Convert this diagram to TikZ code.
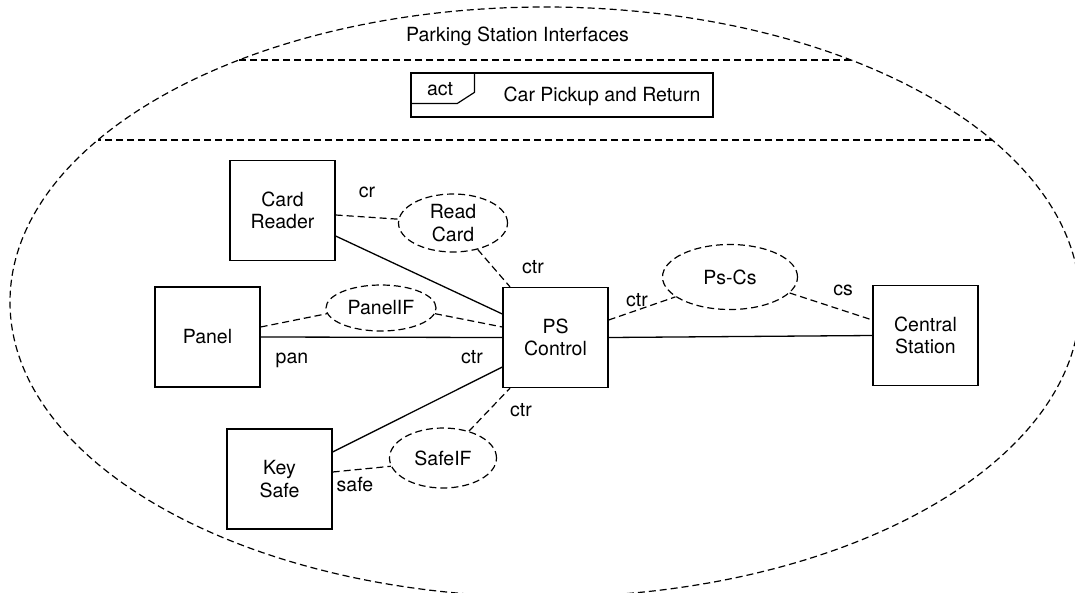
\documentclass[tikz,border=0pt]{standalone}
\usepackage{fontspec}
\setmainfont{TeX Gyre Heros}
\usetikzlibrary{shapes.geometric,calc,intersections}
\begin{document}
\begin{tikzpicture}[x=1pt,y=-1pt,
  every node/.style={font=\fontsize{19.5pt}{22.5pt}\selectfont},
  dsh/.style={dash pattern=on 7pt off 4pt, line width=1.2pt},
  sol/.style={line width=1.3pt},
  blk/.style={draw, line width=1.3pt, rectangle, minimum width=105pt, minimum height=100pt, inner sep=0pt, align=center},
  uc/.style={draw, ellipse, dash pattern=on 7pt off 4pt, line width=1.2pt, inner sep=0pt, align=center},
  lbl/.style={anchor=base, inner sep=0pt}
]
\useasboundingbox (0,0) rectangle (1075,592);
\clip (0,0) rectangle (1075,592);

% outer ellipse and separators
\draw[dsh, name path=E] (545,302) ellipse [x radius=535pt, y radius=295pt];
\path[name path=LA] (0,60) -- (1075,60);
\path[name path=LB] (0,140) -- (1075,140);
\draw[dsh, name intersections={of=E and LA}] (intersection-1) -- (intersection-2);
\draw[dsh, name intersections={of=E and LB}] (intersection-1) -- (intersection-2);
\node[lbl] (psi) at (517.5,41.7) {Parking Station Interfaces};

% activity frame
\node[draw, line width=1.2pt, minimum width=302pt, minimum height=44pt, inner sep=0pt] (fr) at (562,95) {};
\draw[line width=1.2pt] ($(fr.north west)+(0,31)$) -- ++(47,0) -- ++(17,-11) -- ($(fr.north west)+(64,0)$);
\node[lbl] (actl) at (440,95) {act};
\node[lbl] (title) at (602,101.7) {Car Pickup and Return};

% blocks
\node[blk] (cr) at (282.5,210.5) {Card\\Reader};
\node[blk] (pn) at (207.5,337) {Panel};
\node[blk] (ks) at (279.5,479) {Key\\Safe};
\node[blk] (ps) at (555.5,337.5) {PS\\Control};
\node[blk] (cs) at (925.5,335.5) {Central\\Station};

% interface ellipses
\node[uc, minimum width=109pt, minimum height=58pt] (rc) at (453,223) {Read\\Card};
\node[uc, minimum width=110pt, minimum height=46pt] (pif) at (381,308) {PanelIF};
\node[uc, minimum width=107pt, minimum height=60pt] (sif) at (443,458) {SafeIF};
\node[uc, minimum width=135pt, minimum height=65pt] (pc) at (730,277) {Ps-Cs};

% solid connectors
\draw[sol] ([yshift=-25.5pt]cr.east) -- ([yshift=23.5pt]ps.west);
\draw[sol] (pn.east) -- (ps.west);
\draw[sol] ([yshift=27pt]ks.east) -- ([yshift=-29.5pt]ps.west);
\draw[sol] (ps.east) -- (cs.west);

% dashed connectors
\draw[dsh] ([yshift=-4.5pt]cr.east) -- (rc.176);
\draw[dsh] (rc.-47) -- ([xshift=-45.5pt]ps.north);
\draw[dsh] ([yshift=10pt]pn.east) -- (pif.186);
\draw[dsh] (pif.-6) -- ([yshift=10.5pt]ps.west);
\draw[dsh] ([yshift=7pt]ks.east) -- (sif.189);
\draw[dsh] (sif.46) -- ([xshift=-45.5pt]ps.south);
\draw[dsh] ([yshift=17.5pt]ps.east) -- (pc.200);
\draw[dsh] (pc.-15) -- ([yshift=15.5pt]cs.west);

% role labels
\node[lbl] (lcr) at (367,197) {cr};
\node[lbl] (lctra) at (533,273) {ctr};
\node[lbl] (lctrb) at (637,306) {ctr};
\node[lbl] (lcs) at (843,295) {cs};
\node[lbl] (lpan) at (292,363) {pan};
\node[lbl] (lctrc) at (472,363) {ctr};
\node[lbl] (lctrd) at (521,416) {ctr};
\node[lbl] (lsafe) at (355,491) {safe};
\end{tikzpicture}
\end{document}
